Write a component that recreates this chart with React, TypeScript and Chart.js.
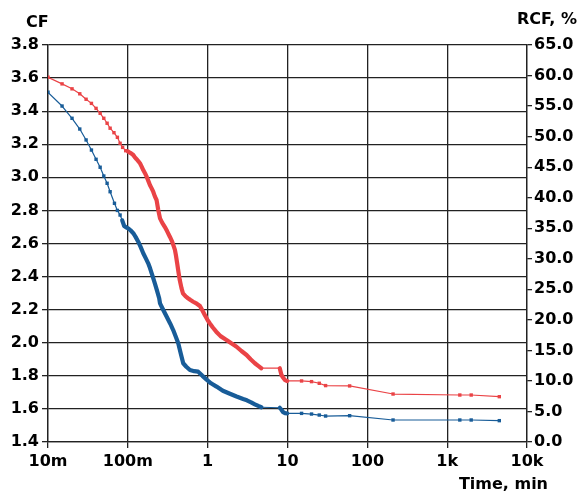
import { useEffect, useRef } from 'react';
import { Chart, registerables } from 'chart.js';

Chart.register(...registerables);

// ---- data ----
const xTickValues = [0.01, 0.1, 1, 10, 100, 1000, 10000];
const xTickLabels = ['10m', '100m', '1', '10', '100', '1k', '10k'];

const redTime = [
  0.01, 0.015, 0.02, 0.025, 0.03, 0.035, 0.04, 0.045, 0.05, 0.055, 0.06, 0.067, 0.074, 0.08, 0.086, 0.094,
  0.1, 0.104, 0.11, 0.117, 0.122, 0.128, 0.135, 0.142, 0.149, 0.156, 0.164, 0.172, 0.18, 0.189, 0.198,
  0.208, 0.218, 0.229, 0.24, 0.253, 0.27, 0.29, 0.31, 0.336, 0.36, 0.389, 0.4, 0.415, 0.43, 0.447, 0.47,
  0.49, 0.53, 0.567, 0.61, 0.658, 0.73, 0.8, 0.86, 0.92, 0.99, 1.06, 1.16, 1.28, 1.45, 1.72, 2.0, 2.3,
  2.65, 3.07, 3.45, 3.9, 4.3, 4.7, 8.0, 8.4, 8.8, 9.3, 9.9, 15, 20, 25, 30, 60, 210, 1440, 2000, 4500,
];
const redCF = [
  3.605, 3.565, 3.535, 3.505, 3.472, 3.447, 3.417, 3.387, 3.357, 3.327, 3.297, 3.27, 3.242, 3.206, 3.181, 3.161,
  3.157, 3.152, 3.145, 3.135, 3.122, 3.111, 3.098, 3.085, 3.065, 3.044, 3.025, 3.004, 2.98, 2.954, 2.935,
  2.913, 2.885, 2.863, 2.805, 2.752, 2.725, 2.701, 2.675, 2.641, 2.61, 2.561, 2.53, 2.48, 2.43, 2.379, 2.33,
  2.299, 2.28, 2.269, 2.258, 2.248, 2.236, 2.222, 2.195, 2.168, 2.14, 2.118, 2.092, 2.067, 2.04, 2.017, 1.995, 1.976,
  1.95, 1.926, 1.9, 1.876, 1.86, 1.846, 1.846, 1.805, 1.79, 1.774, 1.769, 1.769, 1.765, 1.755, 1.741, 1.739, 1.69, 1.684, 1.684, 1.674,
];

const blueTime = [
  0.01, 0.015, 0.02, 0.025, 0.03, 0.035, 0.04, 0.045, 0.05, 0.055, 0.06, 0.068, 0.074, 0.08,
  0.085, 0.09, 0.095, 0.101, 0.108, 0.117, 0.125, 0.135, 0.145, 0.156, 0.168, 0.18, 0.19, 0.199, 0.208,
  0.218, 0.232, 0.247, 0.253, 0.28, 0.307, 0.34, 0.37, 0.4, 0.428, 0.46, 0.494, 0.54, 0.6, 0.68, 0.76,
  0.86, 0.97, 1.1, 1.29, 1.55, 1.9, 2.3, 2.78, 3.1, 3.5, 3.9, 4.3, 4.7, 8.0, 8.4, 8.8, 9.3, 9.9,
  15, 20, 25, 30, 60, 210, 1440, 2000, 4500,
];
const blueCF = [
  3.514, 3.431, 3.357, 3.292, 3.226, 3.165, 3.109, 3.061, 3.008, 2.964, 2.913, 2.843, 2.8, 2.772,
  2.74, 2.706, 2.698, 2.692, 2.68, 2.662, 2.64, 2.611, 2.578, 2.541, 2.51, 2.48, 2.45, 2.42, 2.39,
  2.359, 2.315, 2.269, 2.238, 2.195, 2.157, 2.115, 2.077, 2.035, 1.997, 1.935, 1.876, 1.855, 1.835, 1.828, 1.825,
  1.8, 1.777, 1.755, 1.735, 1.71, 1.692, 1.675, 1.66, 1.652, 1.64, 1.628, 1.618, 1.61, 1.607, 1.595, 1.58, 1.574, 1.573,
  1.573, 1.569, 1.563, 1.557, 1.559, 1.533, 1.533, 1.533, 1.529,
];

// ---- styles ----
const RED = 'rgb(234,67,70)';
const BLUE = 'rgb(24,92,152)';
const GRID = '#222222';
const FONT = 'DejaVu Sans';
const redDense: [number, number][] = [[0.1, 4.7], [8.0, 9.9]];
const blueDense: [number, number][] = [[0.085, 4.7], [8.0, 9.9]];

const inRange = (t: number, r: [number, number][]) => r.some(([a, b]) => t >= a && t <= b);

function makeDataset(times: number[], vals: number[], color: string, dense: [number, number][]) {
  return {
    data: times.map((t, i) => ({ x: t, y: vals[i] })),
    borderColor: color,
    backgroundColor: color,
    pointBackgroundColor: color,
    pointStyle: 'rect',
    pointBorderWidth: 0,
    pointRadius: (c: any) => (inRange(times[c.dataIndex], dense) ? 0 : 2.4),
    borderWidth: 1.2,
    borderJoinStyle: 'round',
    borderCapStyle: 'round',
    tension: 0,
    segment: {
      borderWidth: (s: any) =>
        dense.some(([a, b]) => times[s.p0DataIndex] >= a && times[s.p1DataIndex] <= b) ? 4.2 : 1.2,
    },
    yAxisID: 'y',
    xAxisID: 'x',
  };
}

const titlePlugin = {
  id: 'cornerTitles',
  afterDraw(chart: any) {
    const ctx = chart.ctx;
    ctx.save();
    ctx.fillStyle = '#000';
    ctx.font = `bold 16px "${FONT}"`;
    ctx.textBaseline = 'alphabetic';
    ctx.textAlign = 'left';
    ctx.fillText('CF', 26, 27);
    ctx.textAlign = 'right';
    ctx.fillText('RCF, %', 577, 24);
    ctx.fillText('Time, min', 548, 489);
    ctx.restore();
  },
};

export default function App() {
  const ref = useRef<HTMLCanvasElement>(null);
  useEffect(() => {
    if (!ref.current) return;
    const tickFont = { family: FONT, weight: 'bold' as const, size: 16 };
    const chart = new Chart(ref.current, {
      type: 'line',
      data: {
        datasets: [
          makeDataset(redTime, redCF, RED, redDense) as any,
          makeDataset(blueTime, blueCF, BLUE, blueDense) as any,
        ],
      },
      options: {
        animation: false,
        responsive: false,
        layout: { padding: { top: 45, left: 0, right: 0, bottom: 0 } },
        plugins: { legend: { display: false }, tooltip: { enabled: false } },
        scales: {
          x: {
            type: 'logarithmic',
            min: 0.01,
            max: 10000,
            afterBuildTicks: (scale: any) => {
              scale.ticks = xTickValues.map((v) => ({ value: v }));
            },
            afterFit: (scale: any) => {
              scale.height = 50;
            },
            ticks: {
              autoSkip: false,
              maxRotation: 0,
              padding: 4,
              color: '#000',
              font: tickFont,
              callback: (_v: any, i: number) => xTickLabels[i],
            },
            grid: { color: GRID, lineWidth: 1.3, tickLength: 6, tickColor: GRID },
            border: { display: true, color: GRID, width: 1.3 },
          },
          y: {
            type: 'linear',
            position: 'left',
            min: 1.4,
            max: 3.8,
            afterFit: (scale: any) => {
              scale.width = 48;
            },
            ticks: {
              stepSize: 0.2,
              padding: 3,
              color: '#000',
              font: tickFont,
              callback: (v: any) => Number(v).toFixed(1),
            },
            grid: { color: GRID, lineWidth: 1.3, tickLength: 6, tickColor: GRID },
            border: { display: true, color: GRID, width: 1.3 },
          },
          y1: {
            type: 'linear',
            position: 'right',
            min: 0,
            max: 65,
            afterFit: (scale: any) => {
              scale.width = 52;
            },
            ticks: {
              stepSize: 5,
              padding: 2,
              color: '#000',
              font: tickFont,
              callback: (v: any) => Number(v).toFixed(1),
            },
            grid: { drawOnChartArea: false, color: GRID, lineWidth: 1.3, tickLength: 5, tickColor: GRID },
            border: { display: true, color: GRID, width: 1.3 },
          },
        },
      },
      plugins: [titlePlugin],
    });
    return () => chart.destroy();
  }, []);

  return (
    <div style={{ position: 'absolute', left: 0, top: 0, width: 579, height: 492, background: '#fff' }}>
      <canvas ref={ref} width={579} height={492} style={{ display: 'block' }} />
    </div>
  );
}
